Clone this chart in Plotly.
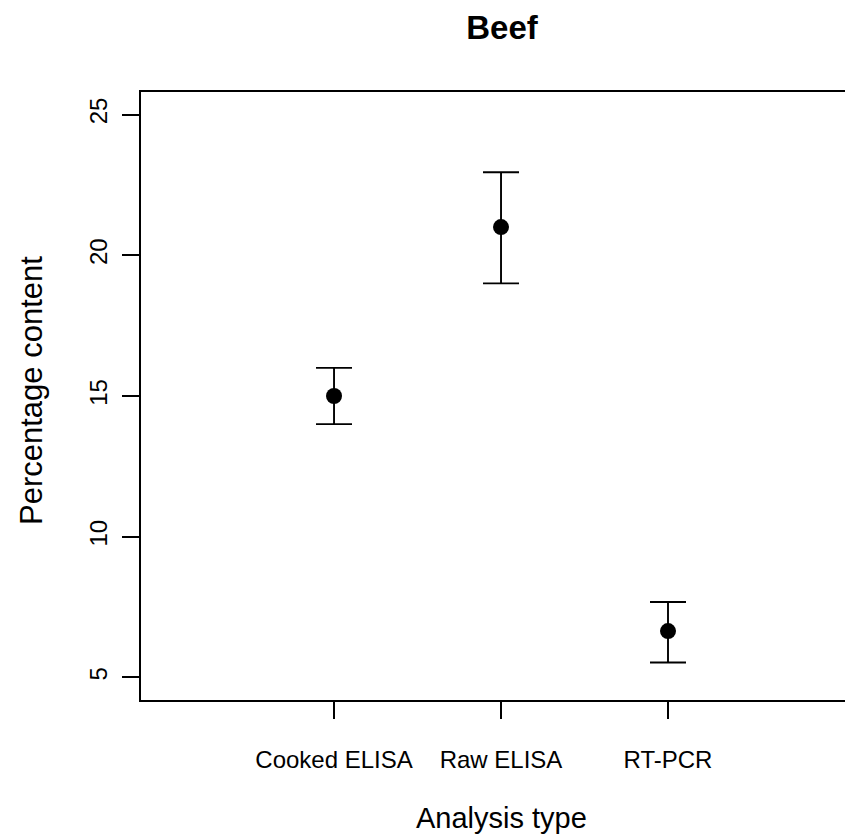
import plotly.graph_objects as go

categories = ["Cooked ELISA", "Raw ELISA", "RT-PCR"]
means = [15.0, 21.0, 6.65]
lower = [14.0, 19.0, 5.53]
upper = [16.0, 22.95, 7.68]
y_ticks = [5, 10, 15, 20, 25]

err_plus = [u - m for u, m in zip(upper, means)]
err_minus = [m - l for m, l in zip(means, lower)]

W, H = 845, 839
L, T, B = 141, 92, 139
FONT = "Liberation Sans, Arial, Helvetica, sans-serif"

fig = go.Figure()
fig.add_trace(go.Scatter(
    x=categories, y=means, mode="markers",
    marker=dict(color="black", size=16, symbol="circle"),
    error_y=dict(type="data", symmetric=False, array=err_plus, arrayminus=err_minus,
                 color="black", thickness=1.9, width=18),
    showlegend=False,
))

fig.update_layout(
    width=W, height=H,
    margin=dict(l=L, r=0, t=T, b=B, pad=0),
    paper_bgcolor="white", plot_bgcolor="white",
    font=dict(family=FONT, color="black", size=24),
    title=dict(text="<b>Beef</b>", x=502 / W, xref="container", xanchor="center",
               y=1 - 27 / H, yref="container", yanchor="middle",
               font=dict(size=33, family=FONT, color="black")),
    xaxis=dict(type="category", range=[-1.156, 3.06], showgrid=False, zeroline=False,
               showline=True, linecolor="black", linewidth=1.8, mirror=True,
               ticks="outside", ticklen=17, tickwidth=1.8, tickcolor="black",
               tickfont=dict(size=24), ticklabelstandoff=20),
    yaxis=dict(range=[4.2, 25.8], tickvals=y_ticks, showgrid=False, zeroline=False,
               showline=True, linecolor="black", linewidth=1.8, mirror=False,
               ticks="outside", ticklen=17, tickwidth=1.8, tickcolor="black",
               tickangle=-90, tickfont=dict(size=24), ticklabelstandoff=6),
    annotations=[
        dict(text="Analysis type", xref="paper", yref="paper",
             x=(501 - L) / (W - L), y=(700 - 818) / 608, xanchor="center", yanchor="middle",
             showarrow=False, font=dict(size=29, family=FONT, color="black")),
        dict(text="Percentage content", xref="paper", yref="paper",
             x=(31 - L) / (W - L), y=(700 - 391) / 608, xanchor="center", yanchor="middle",
             textangle=-90,
             showarrow=False, font=dict(size=31, family=FONT, color="black")),
    ],
)

fig.write_html("out.html")
